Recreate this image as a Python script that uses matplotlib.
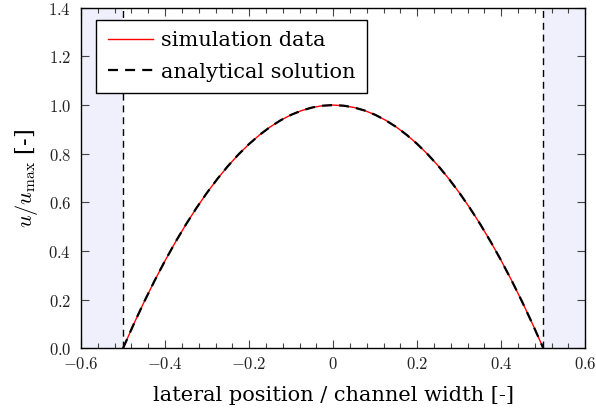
import matplotlib
matplotlib.use("Agg")
import matplotlib.pyplot as plt
from matplotlib.ticker import MultipleLocator, FixedLocator, FuncFormatter

# Velocity profile across the channel (position normalised by channel width)
x_pos = [-0.500, -0.475, -0.450, -0.425, -0.400, -0.375, -0.350, -0.325, -0.300,
         -0.275, -0.250, -0.225, -0.200, -0.175, -0.150, -0.125, -0.100, -0.075,
         -0.050, -0.025, 0.000, 0.025, 0.050, 0.075, 0.100, 0.125, 0.150, 0.175,
         0.200, 0.225, 0.250, 0.275, 0.300, 0.325, 0.350, 0.375, 0.400, 0.425,
         0.450, 0.475, 0.500]
u_sim = [0.000, 0.0975, 0.190, 0.2775, 0.360, 0.4375, 0.510, 0.5775, 0.640,
         0.6975, 0.750, 0.7975, 0.840, 0.8775, 0.910, 0.9375, 0.960, 0.9775,
         0.990, 0.9975, 1.000, 0.9975, 0.990, 0.9775, 0.960, 0.9375, 0.910,
         0.8775, 0.840, 0.7975, 0.750, 0.6975, 0.640, 0.5775, 0.510, 0.4375,
         0.360, 0.2775, 0.190, 0.0975, 0.000]
u_analytical = [0.000, 0.0975, 0.190, 0.2775, 0.360, 0.4375, 0.510, 0.5775, 0.640,
                0.6975, 0.750, 0.7975, 0.840, 0.8775, 0.910, 0.9375, 0.960, 0.9775,
                0.990, 0.9975, 1.000, 0.9975, 0.990, 0.9775, 0.960, 0.9375, 0.910,
                0.8775, 0.840, 0.7975, 0.750, 0.6975, 0.640, 0.5775, 0.510, 0.4375,
                0.360, 0.2775, 0.190, 0.0975, 0.000]
wall_positions = [-0.5, 0.5]
x_ticks = [-0.6, -0.4, -0.2, 0.0, 0.2, 0.4, 0.6]
y_ticks = [0.0, 0.2, 0.4, 0.6, 0.8, 1.0, 1.2, 1.4]

plt.rcParams["mathtext.fontset"] = "cm"
serif = ["DejaVu Serif"]

fig = plt.figure(figsize=(5.96, 4.13), dpi=100)
ax = fig.add_axes([0.136, 0.157, 0.846, 0.824])

x_min, x_max = -0.6, 0.6
y_min, y_max = 0.0, 1.4

# walls (outside the channel)
shade = "#f0f0fc"
ax.axvspan(x_min, wall_positions[0], color=shade, lw=0, zorder=0)
ax.axvspan(wall_positions[1], x_max, color=shade, lw=0, zorder=0)
for xw in wall_positions:
    ax.axvline(xw, color="black", ls=(0, (5, 3.5)), lw=1.0, zorder=1)

ax.plot(x_pos, u_sim, color="red", lw=1.0, label="simulation data", zorder=2)
ax.plot(x_pos, u_analytical, color="black", ls=(0, (4.5, 3.2)), lw=1.6,
        label="analytical solution", zorder=3)

ax.set_xlim(x_min, x_max)
ax.set_ylim(y_min, y_max)

ax.xaxis.set_major_locator(FixedLocator(x_ticks))
ax.xaxis.set_minor_locator(MultipleLocator(0.04))
ax.yaxis.set_major_locator(FixedLocator(y_ticks))


def fmt_x(v, _):
    if abs(v) < 1e-9:
        return r"$0$"
    return r"$%.1f$" % v


def fmt_y(v, _):
    return r"$%.1f$" % v


ax.xaxis.set_major_formatter(FuncFormatter(fmt_x))
ax.yaxis.set_major_formatter(FuncFormatter(fmt_y))
ax.tick_params(axis="both", which="both", direction="in", top=True, right=True,
               labelsize=12, color="#444444", labelcolor="#222222")
ax.tick_params(which="major", length=6, width=0.8)
ax.tick_params(which="minor", length=3.5, width=0.8)
ax.tick_params(axis="x", pad=5)
ax.tick_params(axis="y", pad=7)
for sp in ax.spines.values():
    sp.set_linewidth(1.0)

ax.set_xlabel("lateral position / channel width [-]", family=serif,
              fontsize=15, labelpad=9)
ax.set_ylabel(r"$u/u_{\mathrm{max}}$ [-]", family=serif, fontsize=16,
              labelpad=6)

leg = ax.legend(loc="upper left", prop={"family": serif, "size": 15},
                frameon=True, fancybox=False, edgecolor="black",
                framealpha=1.0, borderpad=0.55, labelspacing=0.6,
                handlelength=2.2, handletextpad=0.35,
                bbox_to_anchor=(0.03, 0.965), borderaxespad=0.0)
leg.get_frame().set_linewidth(1.0)

fig.savefig("out.png", dpi=100)
